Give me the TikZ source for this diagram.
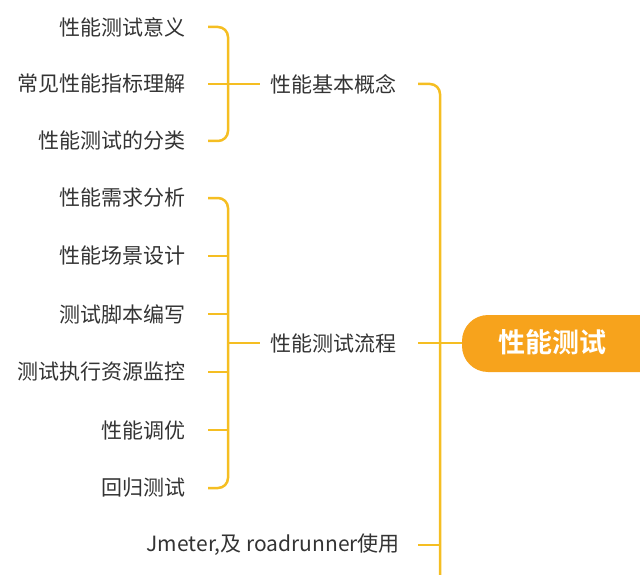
\documentclass[tikz,border=0pt]{standalone}
\usepackage{fontspec}
\newfontfamily\cjk{Noto Sans CJK SC}
\newfontfamily\cjkb{Noto Sans CJK SC Bold}
\definecolor{ln}{HTML}{F5BE22}
\definecolor{rt}{HTML}{F7A31C}
\definecolor{tx}{HTML}{333333}
\begin{document}
\begin{tikzpicture}[x=1pt,y=-1pt,
  item/.style={anchor=east,inner sep=0,text=tx,font=\cjk\fontsize{21}{24}\selectfont},
  br/.style={anchor=west,inner sep=0,text=tx,font=\cjk\fontsize{21}{24}\selectfont},
  con/.style={draw=ln,line width=2.5pt,rounded corners=10pt}]
\useasboundingbox (0,0) rectangle (640,575);
\node[item] (a1) at (186,27) {性能测试意义};
\node[item] (a2) at (186,84) {常见性能指标理解};
\node[item] (a3) at (186,141) {性能测试的分类};
\node[item] (b1) at (186,198) {性能需求分析};
\node[item] (b2) at (186,256) {性能场景设计};
\node[item] (b3) at (186,314) {测试脚本编写};
\node[item] (b4) at (186,372) {测试执行资源监控};
\node[item] (b5) at (186,430) {性能调优};
\node[item] (b6) at (186,488) {回归测试};
\node[br] (m1) at (270,84) {性能基本概念};
\node[br] (m2) at (270,343) {性能测试流程};
\node[item] (m3) at (400,545) {Jmeter,及 roadrunner使用};
\fill[rt,rounded corners=26pt] (462,315) rectangle (700,372);
\node[text=white,font=\cjkb\fontsize{27}{30}\selectfont] (r) at (552,342) {性能测试};
\draw[con] (208,27) -- (228,27) -- (228,141) -- (208,141);
\draw[con] (208,84) -- (260,84);
\draw[con] (208,198) -- (228,198) -- (228,488) -- (208,488);
\draw[con] (208,256) -- (228,256);
\draw[con] (208,314) -- (228,314);
\draw[con] (208,372) -- (228,372);
\draw[con] (208,430) -- (228,430);
\draw[con] (228,343) -- (260,343);
\draw[con] (418,84) -- (440,84) -- (440,590);
\draw[con] (418,343) -- (462,343);
\draw[con] (418,545) -- (440,545);
\end{tikzpicture}
\end{document}
